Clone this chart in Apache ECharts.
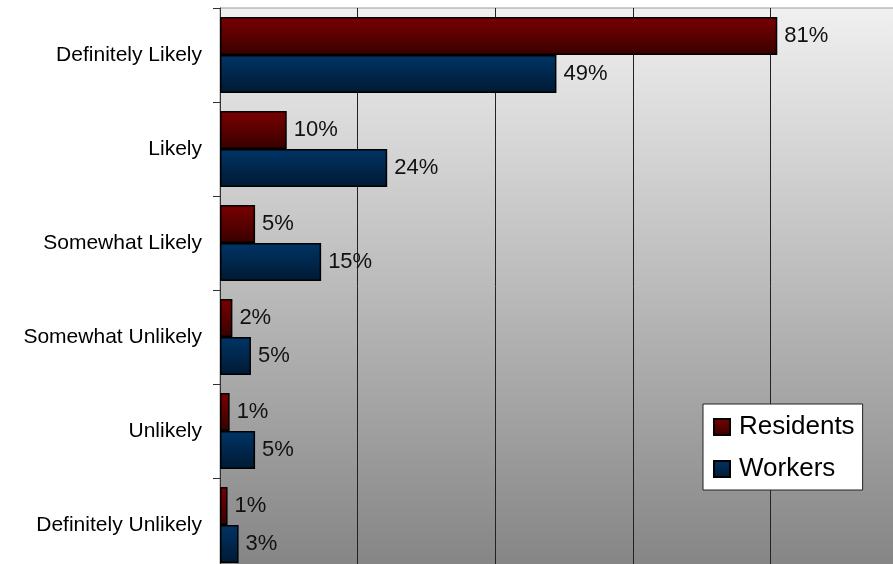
<!DOCTYPE html>
<html>
<head>
<meta charset="utf-8">
<script src="https://cdn.jsdelivr.net/npm/echarts@6/dist/echarts.min.js"></script>
<style>
html,body{margin:0;padding:0;background:#fff;}
#chart{width:893px;height:564px;}
</style>
</head>
<body>
<div id="chart"></div>
<script>
const categories = ["Definitely Likely", "Likely", "Somewhat Likely", "Somewhat Unlikely", "Unlikely", "Definitely Unlikely"];
const residents = [81, 9.7, 5.1, 1.8, 1.4, 1.1];
const workers = [48.9, 24.3, 14.7, 4.5, 5.1, 2.7];
const xTicks = [0, 20, 40, 60, 80, 100];

const FONT = 'Liberation Sans, Arial, sans-serif';
function grad(top, bottom) {
  return new echarts.graphic.LinearGradient(0, 0, 0, 1, [
    {offset: 0, color: top}, {offset: 1, color: bottom}
  ]);
}
const chart = echarts.init(document.getElementById('chart'), null, {renderer: 'canvas'});
const labelCfg = {
  show: true, position: 'right', distance: 7,
  fontFamily: FONT, fontSize: 22, color: '#111',
  formatter: p => Math.round(p.value) + '%'
};
chart.setOption({
  animation: false,
  backgroundColor: '#fff',
  grid: {
    left: 220, top: 8, width: 688, height: 564,
    outerBoundsMode: 'none',
    containLabel: false,
    show: true,
    borderColor: '#9a9a9a', borderWidth: 1,
    backgroundColor: new echarts.graphic.LinearGradient(0, 0, 0, 1, [
      {offset: 0, color: '#f0f0f0'}, {offset: 1, color: '#848484'}
    ])
  },
  legend: {
    orient: 'vertical',
    left: 703, top: 404,
    padding: [10, 8, 8, 10],
    backgroundColor: '#fff',
    borderColor: '#222', borderWidth: 1,
    itemWidth: 16, itemHeight: 16, itemGap: 16,
    icon: 'rect',
    textStyle: {fontFamily: FONT, fontSize: 26, color: '#000', padding: [0, 0, 0, 4]},
    data: ['Residents', 'Workers']
  },
  xAxis: {
    type: 'value', min: xTicks[0], max: xTicks[xTicks.length - 1], interval: 20,
    axisLabel: {show: false}, axisLine: {show: false}, axisTick: {show: false},
    splitLine: {show: true, lineStyle: {color: '#222', width: 1}}
  },
  yAxis: {
    type: 'category', inverse: true, data: categories,
    axisLine: {show: true, lineStyle: {color: '#333', width: 1}},
    axisTick: {show: true, length: 7, lineStyle: {color: '#333'}},
    axisLabel: {fontFamily: FONT, fontSize: 21, color: '#000', margin: 18}
  },
  series: [
    {
      name: 'Residents', type: 'bar', data: residents,
      barGap: '0%', barCategoryGap: '19%',
      itemStyle: {color: grad('#7a0000', '#380000'), borderColor: '#000', borderWidth: 1.5},
      label: labelCfg
    },
    {
      name: 'Workers', type: 'bar', data: workers,
      barGap: '0%', barCategoryGap: '19%',
      itemStyle: {color: grad('#003466', '#001a33'), borderColor: '#000', borderWidth: 1.5},
      label: labelCfg
    }
  ]
});
</script>
</body>
</html>
